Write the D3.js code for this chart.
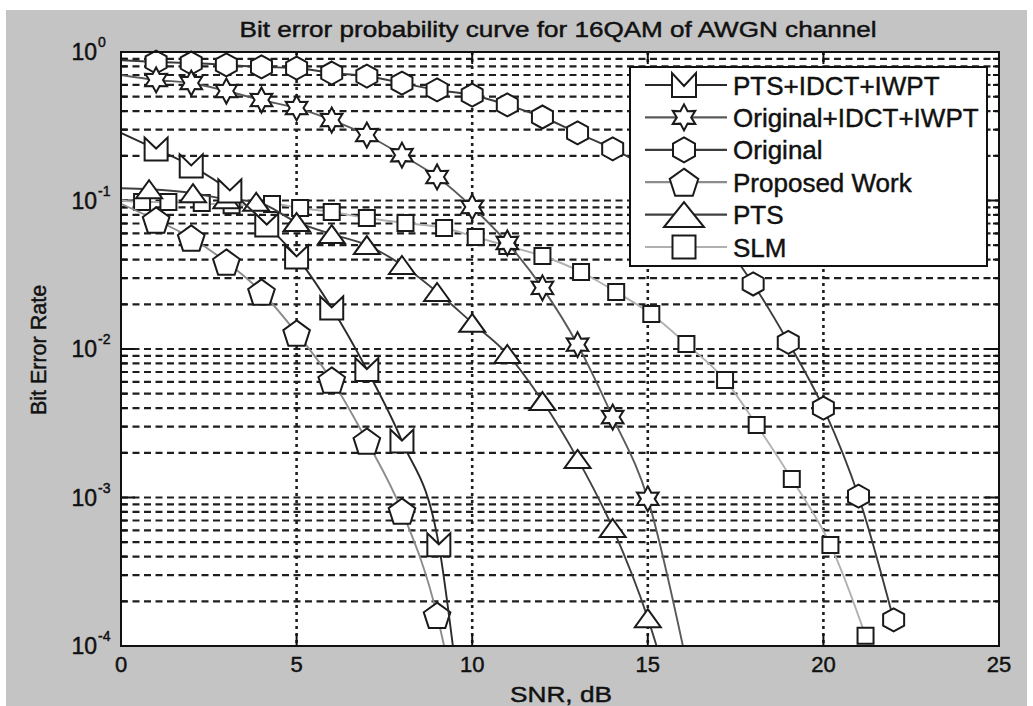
<!DOCTYPE html>
<html>
<head>
<meta charset="utf-8">
<title>Bit error probability curve for 16QAM of AWGN channel</title>
<script src="https://d3js.org/d3.v7.min.js"></script>
<style>
  body { margin: 0; background: #fff; }
  text { font-family: "Liberation Sans", Arial, sans-serif; fill: #111; stroke: #111; stroke-width: 0.45px; }
</style>
</head>
<body>
<svg id="chart" width="1033" height="706"></svg>
<script>
// axis ticks
const snrTicks = [0, 5, 10, 15, 20, 25];
const berExponents = [0, -1, -2, -3, -4];

const seriesNames = ["PTS+IDCT+IWPT", "Original+IDCT+IWPT", "Original", "Proposed Work", "PTS", "SLM"];

// PTS+IDCT+IWPT
const ptsIdctSnr = [1, 2, 3.1, 4.15, 5, 6, 7, 8, 9.05];
const ptsIdctBer = [0.222, 0.171, 0.116, 0.0684, 0.0417, 0.0189, 0.00727, 0.0024, 0.00048];

// Original+IDCT+IWPT
const origIdctSnr = [1, 2, 3, 4, 5, 6, 7, 8, 9, 10, 11, 12, 13, 14, 15];
const origIdctBer = [0.648, 0.618, 0.546, 0.475, 0.42, 0.348, 0.276, 0.202, 0.144, 0.0904, 0.0518, 0.0258, 0.0107, 0.00348, 0.00098];

// Original
const originalSnr = [1, 2, 3, 4, 5, 6, 7, 8, 9, 10, 11, 12, 13, 14, 15, 16, 17, 18, 19, 20, 21, 22];
const originalBer = [0.856, 0.843, 0.818, 0.793, 0.78, 0.722, 0.689, 0.618, 0.555, 0.513, 0.44, 0.365, 0.285, 0.223, 0.165, 0.107, 0.058, 0.0274, 0.0111, 0.004, 0.00102, 0.00015];

// Proposed Work
const proposedSnr = [1, 2, 3, 4, 5, 6, 7, 8, 9];
const proposedBer = [0.0739, 0.0559, 0.0385, 0.0242, 0.0128, 0.00618, 0.0024, 0.00081, 0.000161];

// PTS
const ptsSnr = [0.8, 2.05, 3, 3.85, 5, 6, 7, 8, 9, 10, 11, 12, 13, 14, 15];
const ptsBer = [0.119, 0.112, 0.102, 0.098, 0.0716, 0.0594, 0.0501, 0.0368, 0.0242, 0.015, 0.00925, 0.00446, 0.00182, 0.000623, 0.000154];

// SLM
const slmSnr = [0.6, 1.35, 2.3, 3.15, 4.3, 5.1, 6, 7, 8.1, 9.2, 10.1, 11, 12, 13.1, 14.1, 15.1, 16.1, 17.2, 18.1, 19.1, 20.2, 21.2];
const slmBer = [0.0977, 0.0977, 0.0962, 0.093, 0.0947, 0.089, 0.0837, 0.0762, 0.0705, 0.0653, 0.0568, 0.0494, 0.0423, 0.033, 0.0242, 0.0172, 0.0108, 0.00618, 0.00308, 0.00133, 0.000479, 0.000117];

// where each curve enters at SNR 0 and where it leaves the bottom (BER 1e-4)
const lineStartBer = [0.285, 0.70, 0.88, 0.095, 0.121, 0.10];
const lineEndSnr = [9.45, 16.0, null, 9.2, 15.25, 21.3];

const svg = d3.select("#chart"),
    width = +svg.attr("width"),
    height = +svg.attr("height");

const plotL = 121, plotR = 999, plotT = 52, plotB = 646;

const x = d3.scaleLinear().domain([0, 25]).range([plotL, plotR]);
const y = d3.scaleLog().domain([1e-4, 1]).range([plotB, plotT]);

// figure background
svg.append("rect").attr("x", 6).attr("y", 10).attr("width", 1027 - 6).attr("height", height - 10).attr("fill", "#c4c4c4");
svg.append("rect").attr("x", plotL).attr("y", plotT).attr("width", plotR - plotL).attr("height", plotB - plotT).attr("fill", "#fff");

svg.append("defs").append("clipPath").attr("id", "plotclip")
    .append("rect").attr("x", plotL).attr("y", plotT).attr("width", plotR - plotL).attr("height", plotB - plotT);

// grid
const grid = svg.append("g");
grid.selectAll(".hgrid")
    .data(y.ticks().filter(v => v > 1e-4 * 1.01 && v < 0.99))
    .join("line")
    .attr("x1", plotL).attr("x2", plotR)
    .attr("y1", d => y(d)).attr("y2", d => y(d))
    .attr("stroke", "#1e1e1e").attr("stroke-width", 2.2).attr("stroke-dasharray", "7,4.5");
grid.selectAll(".vgrid")
    .data(snrTicks.slice(1, -1))
    .join("line")
    .attr("x1", d => x(d)).attr("x2", d => x(d))
    .attr("y1", plotT).attr("y2", plotB)
    .attr("stroke", "#1e1e1e").attr("stroke-width", 2.6).attr("stroke-dasharray", "3,4");

// tick marks
const ticks = svg.append("g").attr("stroke", "#111");
y.ticks().forEach(v => {
    const major = Math.abs(Math.log10(v) - Math.round(Math.log10(v))) < 1e-6;
    const len = major ? 14 : 6;
    ticks.append("line").attr("x1", plotL).attr("x2", plotL + len).attr("y1", y(v)).attr("y2", y(v)).attr("stroke-width", 2);
    ticks.append("line").attr("x1", plotR).attr("x2", plotR - len).attr("y1", y(v)).attr("y2", y(v)).attr("stroke-width", 2);
});
snrTicks.forEach(v => {
    ticks.append("line").attr("x1", x(v)).attr("x2", x(v)).attr("y1", plotB).attr("y2", plotB - 12).attr("stroke-width", 2);
    ticks.append("line").attr("x1", x(v)).attr("x2", x(v)).attr("y1", plotT).attr("y2", plotT + 12).attr("stroke-width", 2);
});

// series
const markerPaths = {
    mshape: (w, h, d) => `M${-w/2},${h/2}L${-w/2},${-h/2}L0,${-h/2 + d}L${w/2},${-h/2}L${w/2},${h/2}Z`,
    hexagram: (R, r) => {
        const pts = d3.range(12).map(k => {
            const a = k * Math.PI / 6, rr = k % 2 ? r : R;
            return [rr * Math.sin(a), -rr * Math.cos(a)];
        });
        return "M" + pts.join("L") + "Z";
    },
    hexagon: (hw, hh) => `M0,${-hh}L${hw},${-hh/2}L${hw},${hh/2}L0,${hh}L${-hw},${hh/2}L${-hw},${-hh/2}Z`,
    pentagon: (r) => {
        const pts = d3.range(5).map(k => {
            const a = k * 2 * Math.PI / 5;
            return [r * Math.sin(a), -r * Math.cos(a) + 0.095 * r];
        });
        return "M" + pts.join("L") + "Z";
    },
    triangle: (w, h) => `M0,${-h/2}L${w/2},${h/2}L${-w/2},${h/2}Z`,
    square: (s) => `M${-s/2},${-s/2}h${s}v${s}h${-s}Z`
};

const plotShapes = [
    markerPaths.mshape(23, 23, 11),
    markerPaths.hexagram(12.5, 6.9),
    markerPaths.hexagon(10.5, 11.5),
    markerPaths.pentagon(14),
    markerPaths.triangle(26, 18),
    markerPaths.square(16)
];
const legendShapes = [
    markerPaths.mshape(24, 24, 13),
    markerPaths.hexagram(13, 7.2),
    markerPaths.hexagon(11, 12.5),
    markerPaths.pentagon(15),
    markerPaths.triangle(40, 25),
    markerPaths.square(23)
];
const lineColors = ["#2a2a2a", "#5a5a5a", "#3c3c3c", "#8c8c8c", "#404040", "#b0b0b0"];

const snrs = [ptsIdctSnr, origIdctSnr, originalSnr, proposedSnr, ptsSnr, slmSnr];
const bers = [ptsIdctBer, origIdctBer, originalBer, proposedBer, ptsBer, slmBer];

const series = seriesNames.map((name, i) => {
    const pts = snrs[i].map((s, j) => [s, bers[i][j]]);
    const linePts = [[0, lineStartBer[i]]].concat(pts);
    if (lineEndSnr[i] !== null) linePts.push([lineEndSnr[i], 1e-4]);
    return { name, pts, linePts, shape: plotShapes[i], legendShape: legendShapes[i], color: lineColors[i] };
});

const line = d3.line()
    .x(d => x(d[0]))
    .y(d => y(d[1]))
    .curve(d3.curveMonotoneX);

// draw in reverse order so the first legend entry sits on top
series.slice().reverse().forEach(s => {
    const g = svg.append("g");
    g.append("path")
        .attr("d", line(s.linePts))
        .attr("clip-path", "url(#plotclip)")
        .attr("fill", "none")
        .attr("stroke", s.color)
        .attr("stroke-width", 1.9);
    g.selectAll("path.mk")
        .data(s.pts)
        .join("path")
        .attr("class", "mk")
        .attr("transform", d => `translate(${x(d[0])},${y(d[1])})`)
        .attr("d", s.shape)
        .attr("fill", "#fff")
        .attr("stroke", "#1a1a1a")
        .attr("stroke-width", 2);
});

// axes box
svg.append("rect").attr("x", plotL).attr("y", plotT).attr("width", plotR - plotL).attr("height", plotB - plotT)
    .attr("fill", "none").attr("stroke", "#111").attr("stroke-width", 2);

// y tick labels
berExponents.forEach(e => {
    const yy = y(Math.pow(10, e));
    svg.append("text").attr("x", 97).attr("y", yy + 8).attr("text-anchor", "end")
        .attr("font-size", 23).text("10");
    svg.append("text").attr("x", 98).attr("y", yy - 5).attr("text-anchor", "start")
        .attr("font-size", 14).text(e === 0 ? "0" : "-" + Math.abs(e));
});

// x tick labels
svg.selectAll(".xlab")
    .data(snrTicks)
    .join("text")
    .attr("x", d => x(d)).attr("y", 672)
    .attr("text-anchor", "middle").attr("font-size", 22)
    .text(d => d);

// titles
svg.append("text").attr("x", 558).attr("y", 37).attr("text-anchor", "middle")
    .attr("font-size", 22).attr("textLength", 637).attr("lengthAdjust", "spacingAndGlyphs")
    .text("Bit error probability curve for 16QAM of AWGN channel");
svg.append("text").attr("x", 561).attr("y", 702).attr("text-anchor", "middle")
    .attr("font-size", 22).attr("textLength", 102).attr("lengthAdjust", "spacingAndGlyphs")
    .text("SNR, dB");
svg.append("text").attr("transform", "translate(46,350) rotate(-90)").attr("text-anchor", "middle")
    .attr("font-size", 21.5).text("Bit Error Rate");

// legend
const legend = svg.append("g");
legend.append("rect").attr("x", 630).attr("y", 67).attr("width", 357).attr("height", 199)
    .attr("fill", "#fff").attr("stroke", "#111").attr("stroke-width", 2);
series.forEach((s, i) => {
    const ry = 85 + i * 32.4;
    legend.append("line").attr("x1", 645).attr("x2", 727).attr("y1", ry).attr("y2", ry)
        .attr("stroke", s.color).attr("stroke-width", 2.2);
    legend.append("path").attr("transform", `translate(684,${ry})`).attr("d", s.legendShape)
        .attr("fill", "#fff").attr("stroke", "#1a1a1a").attr("stroke-width", 2);
    legend.append("text").attr("x", 733).attr("y", ry + 9.5).attr("font-size", 26).text(s.name);
});
</script>
</body>
</html>
